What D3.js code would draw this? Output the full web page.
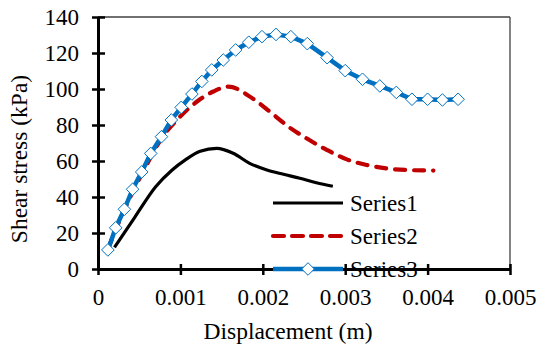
<!DOCTYPE html>
<html>
<head>
<meta charset="utf-8">
<script src="https://cdn.jsdelivr.net/npm/d3@7"></script>
<style>
  body { margin: 0; background: #fff; }
  svg { display: block; }
</style>
</head>
<body>
<div id="chart"></div>
<script>
// data
const series1X = [0.0002, 0.00045, 0.0007, 0.0009, 0.00106, 0.00124, 0.00144, 0.00164, 0.00184, 0.00205, 0.00225, 0.00245, 0.00265, 0.00285];
const series1Y = [12, 29, 45.7, 55, 60.6, 65.4, 67, 64.3, 58.7, 55, 52.6, 50.4, 47.9, 46];

const series2X = [0.00012, 0.00022, 0.00033, 0.00045, 0.00057, 0.00069, 0.00081, 0.00093, 0.00106, 0.00121, 0.0014, 0.00158, 0.00189, 0.00211, 0.00231, 0.00253, 0.00278, 0.00302, 0.00326, 0.0035, 0.00375, 0.00407];
const series2Y = [11, 22.5, 34, 45.5, 56, 66.5, 75, 81.5, 87.5, 93.3, 98.6, 101.3, 94.3, 86.5, 79.1, 72.6, 66.1, 60.9, 57.8, 55.9, 55, 54.7];

const series3X = [0.00012, 0.000215, 0.00032, 0.00042, 0.00053, 0.00064, 0.00077, 0.00089, 0.00101, 0.00114, 0.00126, 0.00138, 0.00152, 0.00167, 0.00183, 0.00199, 0.00216, 0.00234, 0.00254, 0.00278, 0.003, 0.00321, 0.00342, 0.00362, 0.00381, 0.004, 0.00418, 0.00437];
const series3Y = [10.6, 22.9, 33.2, 44.3, 53.9, 64.2, 73.5, 82.8, 89.8, 97.2, 104.2, 110.6, 116.1, 121.7, 126, 129.1, 130.3, 129.1, 125.2, 117.4, 110.2, 105.4, 101.7, 98.1, 94.3, 94.3, 93.9, 94.3];

const seriesNames = ["Series1", "Series2", "Series3"];
const xTicks = [0, 0.001, 0.002, 0.003, 0.004, 0.005];
const xTickLabels = ["0", "0.001", "0.002", "0.003", "0.004", "0.005"];
const yTicks = [0, 20, 40, 60, 80, 100, 120, 140];

const width = 539, height = 352;
const margin = {top: 17, right: 29, bottom: 83, left: 98};
const font = "Liberation Serif, Times New Roman, serif";

const svg = d3.select("#chart")
    .append("svg")
    .attr("width", width)
    .attr("height", height)
    .style("background", "#fff");

const xScale = d3.scaleLinear()
    .domain([0, 0.005])
    .range([margin.left, width - margin.right]);

const yScale = d3.scaleLinear()
    .domain([0, 140])
    .range([height - margin.bottom, margin.top]);

// thin frame top and right
svg.append("line")
    .attr("x1", xScale(0)).attr("x2", xScale(0.005))
    .attr("y1", yScale(140)).attr("y2", yScale(140))
    .attr("stroke", "#404040").attr("stroke-width", 1.3);
svg.append("line")
    .attr("x1", xScale(0.005)).attr("x2", xScale(0.005))
    .attr("y1", yScale(140)).attr("y2", yScale(0))
    .attr("stroke", "#404040").attr("stroke-width", 1.3);

// y-axis
const yAxis = svg.append("g")
    .attr("transform", `translate(${margin.left},0)`)
    .call(d3.axisLeft(yScale).tickValues(yTicks).tickSizeInner(6).tickSizeOuter(0).tickPadding(13));
yAxis.selectAll(".tick line").attr("x1", 7);

// x-axis
const xAxis = svg.append("g")
    .attr("transform", `translate(0,${height - margin.bottom})`)
    .call(d3.axisBottom(xScale).tickValues(xTicks)
        .tickFormat((d, i) => xTickLabels[i])
        .tickSizeInner(6).tickSizeOuter(0).tickPadding(14));
xAxis.selectAll(".tick line").attr("y1", -5);

[xAxis, yAxis].forEach(ax => {
    ax.attr("font-family", font).attr("font-size", 23);
    ax.select(".domain").attr("stroke", "#000").attr("stroke-width", 3);
    ax.selectAll(".tick line").attr("stroke", "#000").attr("stroke-width", 2.5);
    ax.selectAll("text").attr("fill", "#000");
});

// axis labels
svg.append("text")
    .attr("x", 288)
    .attr("y", 339)
    .attr("text-anchor", "middle")
    .attr("font-family", font)
    .attr("font-size", 23.5)
    .text("Displacement (m)");

svg.append("text")
    .attr("transform", "rotate(-90)")
    .attr("x", -159)
    .attr("y", 27)
    .attr("text-anchor", "middle")
    .attr("font-family", font)
    .attr("font-size", 23.5)
    .text("Shear stress (kPa)");

// lines
const line = d3.line()
    .x(d => xScale(d[0]))
    .y(d => yScale(d[1]));

const s1 = series1X.map((x, i) => [x, series1Y[i]]);
const s2 = series2X.map((x, i) => [x, series2Y[i]]);
const s3 = series3X.map((x, i) => [x, series3Y[i]]);

svg.append("path")
    .datum(s1)
    .attr("d", line.curve(d3.curveMonotoneX))
    .attr("fill", "none")
    .attr("stroke", "#000")
    .attr("stroke-width", 3.2)
    .attr("stroke-linejoin", "round");

svg.append("path")
    .datum(s2)
    .attr("d", line.curve(d3.curveMonotoneX))
    .attr("fill", "none")
    .attr("stroke", "#C00000")
    .attr("stroke-width", 4.2)
    .attr("stroke-dasharray", "10,9")
    .attr("stroke-linecap", "round");

svg.append("path")
    .datum(s3)
    .attr("d", line.curve(d3.curveLinear))
    .attr("fill", "none")
    .attr("stroke", "#0070C0")
    .attr("stroke-width", 4.5)
    .attr("stroke-linejoin", "round");

const diamond = "M0,-6.3L6.3,0L0,6.3L-6.3,0Z";

svg.selectAll(".marker")
    .data(s3)
    .join("path")
    .attr("class", "marker")
    .attr("d", diamond)
    .attr("transform", d => `translate(${xScale(d[0])},${yScale(d[1])})`)
    .attr("fill", "#fff")
    .attr("stroke", "#0070C0")
    .attr("stroke-width", 1);

// legend
const legend = svg.append("g").attr("transform", "translate(273,203)");
const legendStyles = [
    {stroke: "#000", width: 3.2, dash: null},
    {stroke: "#C00000", width: 4.2, dash: "11,8"},
    {stroke: "#0070C0", width: 4.5, dash: null}
];
seriesNames.forEach((name, i) => {
    const g = legend.append("g").attr("transform", `translate(0,${i * 33})`);
    g.append("line")
        .attr("x1", 0).attr("x2", 70)
        .attr("stroke", legendStyles[i].stroke)
        .attr("stroke-width", legendStyles[i].width)
        .attr("stroke-dasharray", legendStyles[i].dash)
        .attr("stroke-linecap", legendStyles[i].dash ? "round" : "butt");
    if (i === 2) {
        g.append("path")
            .attr("d", diamond)
            .attr("transform", "translate(35,0)")
            .attr("fill", "#fff")
            .attr("stroke", "#0070C0")
            .attr("stroke-width", 1);
    }
    g.append("text")
        .attr("x", 77)
        .attr("y", 8)
        .attr("font-family", font)
        .attr("font-size", 23)
        .text(name);
});
</script>
</body>
</html>
